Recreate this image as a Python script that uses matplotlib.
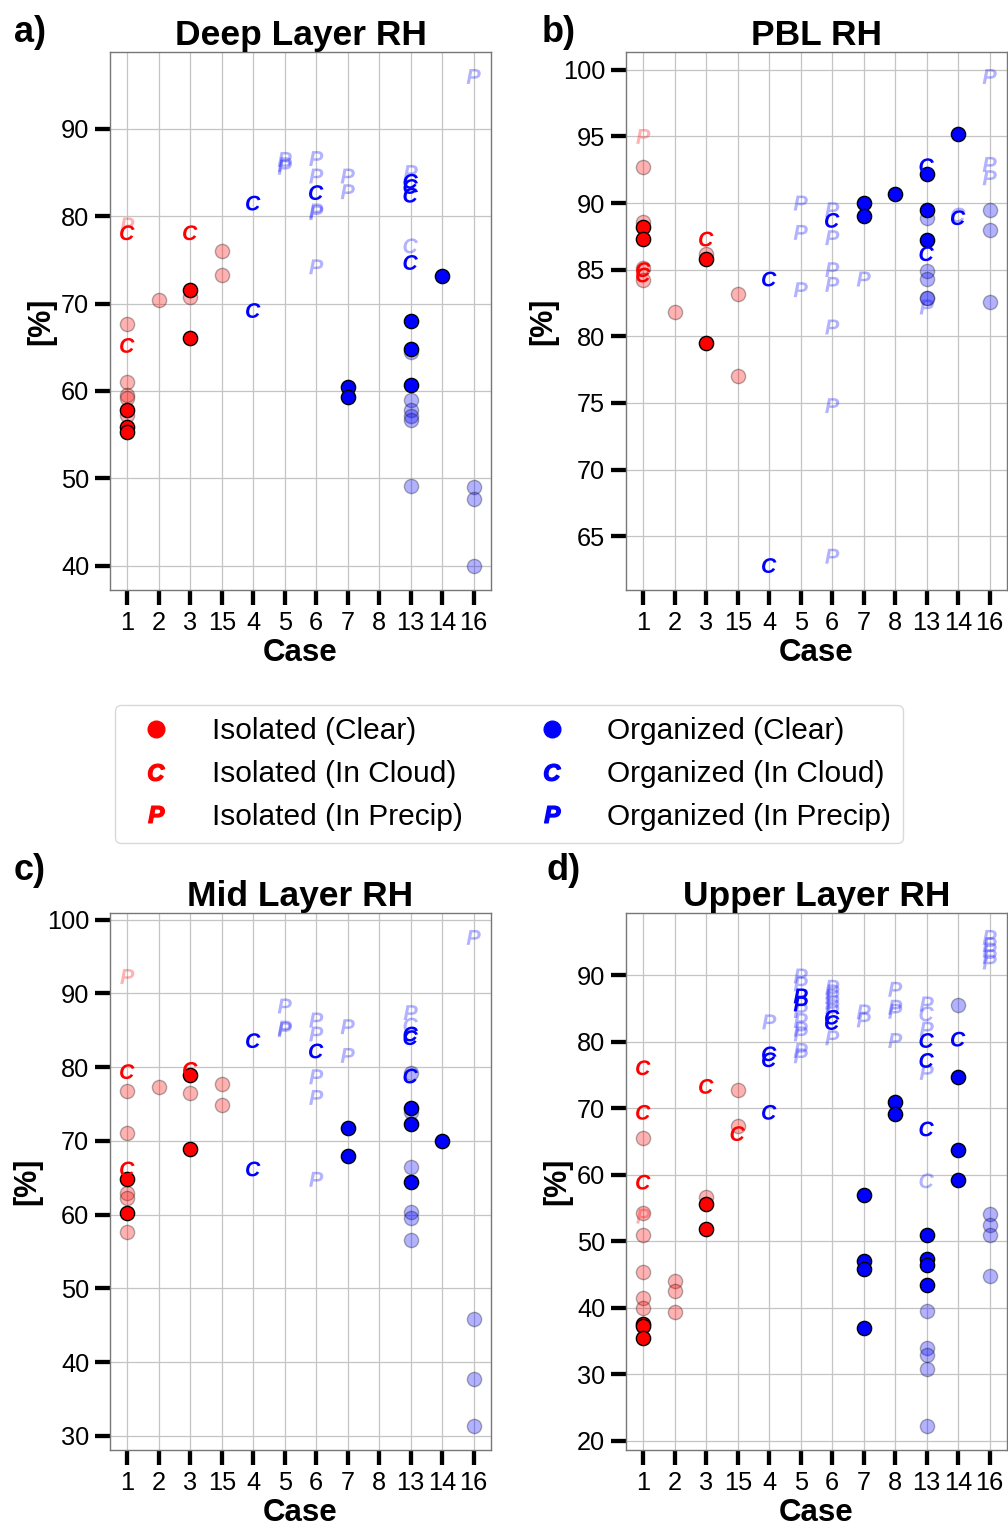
import matplotlib
matplotlib.use('Agg')
import matplotlib.pyplot as plt
from matplotlib.lines import Line2D
from matplotlib.ticker import MultipleLocator

plt.rcParams['font.family'] = ['Liberation Sans', 'DejaVu Sans']
plt.rcParams['mathtext.fontset'] = 'custom'
plt.rcParams['mathtext.it'] = 'Liberation Sans:italic:bold'
plt.rcParams['mathtext.rm'] = 'Liberation Sans:bold'

CASES = ['1', '2', '3', '15', '4', '5', '6', '7', '8', '13', '14', '16']

# entries: (case, kind, solid, value)   kind: 'o' clear, 'C' in cloud, 'P' in precip
DEEP_ISO = [
    ('1', 'P', 0, 79.0), ('1', 'C', 1, 78.1), ('1', 'o', 0, 67.7), ('1', 'C', 1, 65.2),
    ('1', 'o', 0, 61.0), ('1', 'o', 0, 59.5), ('1', 'o', 0, 59.2), ('1', 'o', 1, 57.8),
    ('1', 'o', 0, 57.2), ('1', 'o', 1, 55.9), ('1', 'o', 1, 55.3),
    ('2', 'o', 0, 70.4),
    ('3', 'C', 1, 78.1), ('3', 'o', 1, 71.5), ('3', 'o', 0, 70.8), ('3', 'o', 1, 66.1),
    ('15', 'o', 0, 76.0), ('15', 'o', 0, 73.3),
]
DEEP_ORG = [
    ('4', 'C', 1, 81.5), ('4', 'C', 1, 69.2),
    ('5', 'P', 0, 86.5), ('5', 'P', 0, 85.9), ('5', 'P', 0, 85.6),
    ('6', 'P', 0, 86.6), ('6', 'P', 0, 84.6), ('6', 'C', 1, 82.7), ('6', 'P', 0, 80.6),
    ('6', 'P', 0, 80.4), ('6', 'P', 0, 74.2),
    ('7', 'P', 0, 84.6), ('7', 'P', 0, 82.8), ('7', 'o', 1, 60.5), ('7', 'o', 1, 59.3),
    ('13', 'P', 0, 85.0), ('13', 'C', 1, 84.0), ('13', 'C', 1, 83.4), ('13', 'C', 1, 82.4),
    ('13', 'C', 0, 76.6), ('13', 'C', 1, 74.7), ('13', 'o', 1, 68.0), ('13', 'o', 1, 64.8),
    ('13', 'o', 0, 64.5), ('13', 'o', 1, 60.7), ('13', 'o', 0, 58.9), ('13', 'o', 0, 57.8),
    ('13', 'o', 0, 57.1), ('13', 'o', 0, 56.7), ('13', 'o', 0, 49.1),
    ('14', 'o', 1, 73.2),
    ('16', 'P', 0, 96.0), ('16', 'o', 0, 49.0), ('16', 'o', 0, 47.6), ('16', 'o', 0, 40.0),
]

PBL_ISO = [
    ('1', 'P', 0, 95.0), ('1', 'o', 0, 92.7), ('1', 'o', 0, 88.6), ('1', 'o', 1, 88.2),
    ('1', 'o', 1, 87.3), ('1', 'o', 0, 85.1), ('1', 'C', 1, 85.0), ('1', 'C', 1, 84.6),
    ('1', 'o', 0, 84.2),
    ('2', 'o', 0, 81.8),
    ('3', 'C', 1, 87.3), ('3', 'o', 0, 86.2), ('3', 'o', 1, 85.8), ('3', 'o', 1, 79.5),
    ('15', 'o', 0, 83.2), ('15', 'o', 0, 77.0),
]
PBL_ORG = [
    ('4', 'C', 1, 84.3), ('4', 'C', 1, 62.8),
    ('5', 'P', 0, 90.0), ('5', 'P', 0, 87.8), ('5', 'P', 0, 83.5),
    ('6', 'P', 0, 89.5), ('6', 'C', 1, 88.7), ('6', 'P', 0, 87.4), ('6', 'P', 0, 85.0),
    ('6', 'P', 0, 83.9), ('6', 'P', 0, 80.7), ('6', 'P', 0, 74.8), ('6', 'P', 0, 63.5),
    ('7', 'o', 1, 90.0), ('7', 'o', 1, 89.0), ('7', 'P', 0, 84.3),
    ('8', 'o', 1, 90.7),
    ('13', 'C', 1, 92.8), ('13', 'o', 1, 92.2), ('13', 'o', 1, 89.5), ('13', 'o', 0, 88.9),
    ('13', 'o', 1, 87.2), ('13', 'C', 1, 86.2), ('13', 'o', 0, 84.9), ('13', 'o', 0, 84.3),
    ('13', 'o', 0, 82.9), ('13', 'o', 0, 82.9), ('13', 'P', 0, 82.2),
    ('14', 'o', 1, 95.2), ('14', 'C', 0, 89.1), ('14', 'C', 1, 88.9),
    ('16', 'P', 0, 99.5), ('16', 'P', 0, 92.9), ('16', 'P', 0, 91.9), ('16', 'o', 0, 89.5),
    ('16', 'o', 0, 88.0), ('16', 'o', 0, 82.6),
]

MID_ISO = [
    ('1', 'P', 0, 92.3), ('1', 'C', 1, 79.4), ('1', 'o', 0, 76.8), ('1', 'o', 0, 71.1),
    ('1', 'C', 1, 66.2), ('1', 'o', 1, 64.8), ('1', 'o', 0, 62.9), ('1', 'o', 0, 62.2),
    ('1', 'o', 1, 60.2), ('1', 'o', 0, 57.6),
    ('2', 'o', 0, 77.3),
    ('3', 'C', 1, 79.7), ('3', 'o', 1, 79.0), ('3', 'o', 0, 76.5), ('3', 'o', 1, 68.9),
    ('15', 'o', 0, 77.7), ('15', 'o', 0, 74.9),
]
MID_ORG = [
    ('4', 'C', 1, 83.6), ('4', 'C', 1, 66.2),
    ('5', 'P', 0, 88.3), ('5', 'P', 0, 85.3), ('5', 'P', 0, 85.1),
    ('6', 'P', 0, 86.4), ('6', 'P', 0, 84.5), ('6', 'C', 1, 82.2), ('6', 'P', 0, 78.7),
    ('6', 'P', 0, 75.9), ('6', 'P', 0, 64.8),
    ('7', 'P', 0, 85.5), ('7', 'P', 0, 81.6), ('7', 'o', 1, 71.8), ('7', 'o', 1, 68.0),
    ('13', 'P', 0, 87.4), ('13', 'C', 0, 85.7), ('13', 'C', 1, 84.5), ('13', 'C', 1, 84.0),
    ('13', 'o', 0, 79.2), ('13', 'C', 1, 78.8), ('13', 'o', 0, 73.9), ('13', 'o', 1, 74.4),
    ('13', 'o', 1, 72.3), ('13', 'o', 0, 66.5), ('13', 'o', 1, 64.4), ('13', 'o', 0, 60.3),
    ('13', 'o', 0, 59.6), ('13', 'o', 0, 56.6),
    ('14', 'o', 1, 70.0),
    ('16', 'P', 0, 97.6), ('16', 'o', 0, 45.9), ('16', 'o', 0, 37.7), ('16', 'o', 0, 31.4),
]

UPPER_ISO = [
    ('1', 'C', 1, 76.1), ('1', 'C', 1, 69.4), ('1', 'o', 0, 65.5), ('1', 'C', 1, 58.9),
    ('1', 'o', 0, 54.3), ('1', 'P', 0, 53.8), ('1', 'o', 0, 50.9), ('1', 'o', 0, 45.4),
    ('1', 'o', 0, 41.5), ('1', 'o', 0, 40.0), ('1', 'o', 1, 37.5), ('1', 'o', 1, 37.2),
    ('1', 'o', 1, 35.4),
    ('2', 'o', 0, 44.1), ('2', 'o', 0, 42.6), ('2', 'o', 0, 39.4),
    ('3', 'C', 1, 73.3), ('3', 'o', 0, 56.6), ('3', 'o', 1, 55.6), ('3', 'o', 1, 51.8),
    ('15', 'o', 0, 72.8), ('15', 'o', 0, 67.4), ('15', 'C', 1, 66.2),
]
UPPER_ORG = [
    ('4', 'P', 0, 83.0), ('4', 'C', 1, 78.2), ('4', 'C', 1, 77.3), ('4', 'C', 1, 69.4),
    ('5', 'P', 0, 89.9), ('5', 'P', 0, 88.7), ('5', 'P', 1, 86.9), ('5', 'P', 1, 85.7),
    ('5', 'P', 0, 84.7), ('5', 'P', 0, 83.2), ('5', 'P', 0, 81.9), ('5', 'P', 0, 81.2),
    ('5', 'P', 0, 78.7), ('5', 'P', 0, 77.9),
    ('6', 'P', 0, 88.2), ('6', 'P', 0, 87.5), ('6', 'P', 0, 86.8), ('6', 'P', 0, 86.0),
    ('6', 'P', 0, 85.3), ('6', 'P', 0, 84.6), ('6', 'C', 1, 83.7), ('6', 'C', 1, 82.9),
    ('6', 'P', 0, 80.6),
    ('7', 'P', 0, 84.5), ('7', 'P', 0, 83.3), ('7', 'o', 1, 57.0), ('7', 'o', 1, 47.1),
    ('7', 'o', 1, 45.9), ('7', 'o', 1, 37.0),
    ('8', 'P', 0, 87.9), ('8', 'P', 0, 85.2), ('8', 'P', 0, 84.6), ('8', 'P', 0, 80.2),
    ('8', 'o', 1, 70.9), ('8', 'o', 1, 69.1),
    ('13', 'P', 0, 85.7), ('13', 'C', 0, 84.2), ('13', 'P', 0, 81.9), ('13', 'C', 1, 80.2),
    ('13', 'C', 1, 77.2), ('13', 'P', 0, 75.4), ('13', 'C', 1, 66.9), ('13', 'C', 0, 59.1),
    ('13', 'o', 1, 51.0), ('13', 'o', 1, 47.4), ('13', 'o', 1, 46.4), ('13', 'o', 1, 43.4),
    ('13', 'o', 0, 39.5), ('13', 'o', 0, 34.0), ('13', 'o', 0, 32.9), ('13', 'o', 0, 30.8),
    ('13', 'o', 0, 22.3),
    ('14', 'o', 0, 85.5), ('14', 'C', 1, 80.4), ('14', 'o', 1, 74.7), ('14', 'o', 1, 63.8),
    ('14', 'o', 1, 59.2),
    ('16', 'P', 0, 95.7), ('16', 'P', 0, 94.6), ('16', 'P', 0, 93.8), ('16', 'P', 0, 92.8),
    ('16', 'P', 0, 92.0), ('16', 'o', 0, 54.1), ('16', 'o', 0, 52.5), ('16', 'o', 0, 50.9),
    ('16', 'o', 0, 44.8),
]

TITLES = ['Deep Layer RH', 'PBL RH', 'Mid Layer RH', 'Upper Layer RH']
PANEL_LABELS = ['a)', 'b)', 'c)', 'd)']
LEGEND_LABELS = ['Isolated (Clear)', 'Isolated (In Cloud)', 'Isolated (In Precip)',
                 'Organized (Clear)', 'Organized (In Cloud)', 'Organized (In Precip)']

RED = '#ff0000'
BLUE = '#0000ff'
MARKERS = {'o': 'o', 'C': r'$C$', 'P': r'$P$'}
FADED_ALPHA = 0.3

fig = plt.figure(figsize=(10.08, 15.25), dpi=100)

W, H = 1008.0, 1525.0
def ax_rect(l, t, r, b):
    return [l / W, 1 - b / H, (r - l) / W, (b - t) / H]

rects = [ax_rect(110, 52, 491, 590), ax_rect(626, 52, 1007, 590),
         ax_rect(110, 913, 491, 1450), ax_rect(626, 913, 1007, 1450)]
ystep = [10, 5, 10, 10]
panels = [(DEEP_ISO, DEEP_ORG), (PBL_ISO, PBL_ORG), (MID_ISO, MID_ORG), (UPPER_ISO, UPPER_ORG)]
label_pos = [(14, 32), (542, 32), (14, 870), (547, 870)]


def draw_group(ax, data, color):
    for solid in (0, 1):
        for kind in ('o', 'C', 'P'):
            xs = [CASES.index(c) for (c, k, s, v) in data if k == kind and s == solid]
            ys = [v for (c, k, s, v) in data if k == kind and s == solid]
            if not xs:
                continue
            alpha = 1.0 if solid else FADED_ALPHA
            if kind == 'o':
                ax.scatter(xs, ys, s=105, marker='o', facecolor=color, edgecolor='black',
                           linewidths=1.0, alpha=alpha, zorder=3 + solid)
            else:
                ax.scatter(xs, ys, s=115, marker=MARKERS[kind], facecolor=color,
                           edgecolor='none', linewidths=0, alpha=alpha, zorder=3 + solid)


for i, (rect, (iso, org)) in enumerate(zip(rects, panels)):
    ax = fig.add_axes(rect)
    ax.set_axisbelow(True)
    ax.grid(True, color='#c4c4c4', linewidth=0.9)
    draw_group(ax, iso, RED)
    draw_group(ax, org, BLUE)
    ax.set_xticks(range(len(CASES)))
    ax.set_xticklabels(CASES)
    ax.yaxis.set_major_locator(MultipleLocator(ystep[i]))
    ax.tick_params(axis='both', direction='out', length=11, width=3.1, labelsize=18.3,
                   pad=4, color='black')
    for sp in ax.spines.values():
        sp.set_color('#777777')
        sp.set_linewidth(1.0)
    ax.set_title(TITLES[i], fontsize=25.5, fontweight='bold', pad=4)
    ax.set_xlabel('Case', fontsize=22.5, fontweight='bold', labelpad=2)
    ax.set_ylabel('[%]', fontsize=22, fontweight='bold', labelpad=3)
    lx, ly = label_pos[i]
    fig.text(lx / W, 1 - ly / H, PANEL_LABELS[i], fontsize=26, fontweight='bold',
             ha='left', va='center')

handles = [
    Line2D([], [], linestyle='none', marker='o', color=RED, markersize=12),
    Line2D([], [], linestyle='none', marker=r'$C$', color=RED, markersize=12),
    Line2D([], [], linestyle='none', marker=r'$P$', color=RED, markersize=12),
    Line2D([], [], linestyle='none', marker='o', color=BLUE, markersize=12),
    Line2D([], [], linestyle='none', marker=r'$C$', color=BLUE, markersize=12),
    Line2D([], [], linestyle='none', marker=r'$P$', color=BLUE, markersize=12),
]
leg = fig.legend(handles, LEGEND_LABELS, ncol=2, loc='center',
                 bbox_to_anchor=(509 / W, 1 - 774 / H), fontsize=21.5,
                 handlelength=2.0, handletextpad=0.85, columnspacing=2.0,
                 labelspacing=0.5, borderpad=0.4, frameon=True, fancybox=True)
leg.get_frame().set_edgecolor('#d0d0d0')

fig.savefig('out.png', dpi=100)
